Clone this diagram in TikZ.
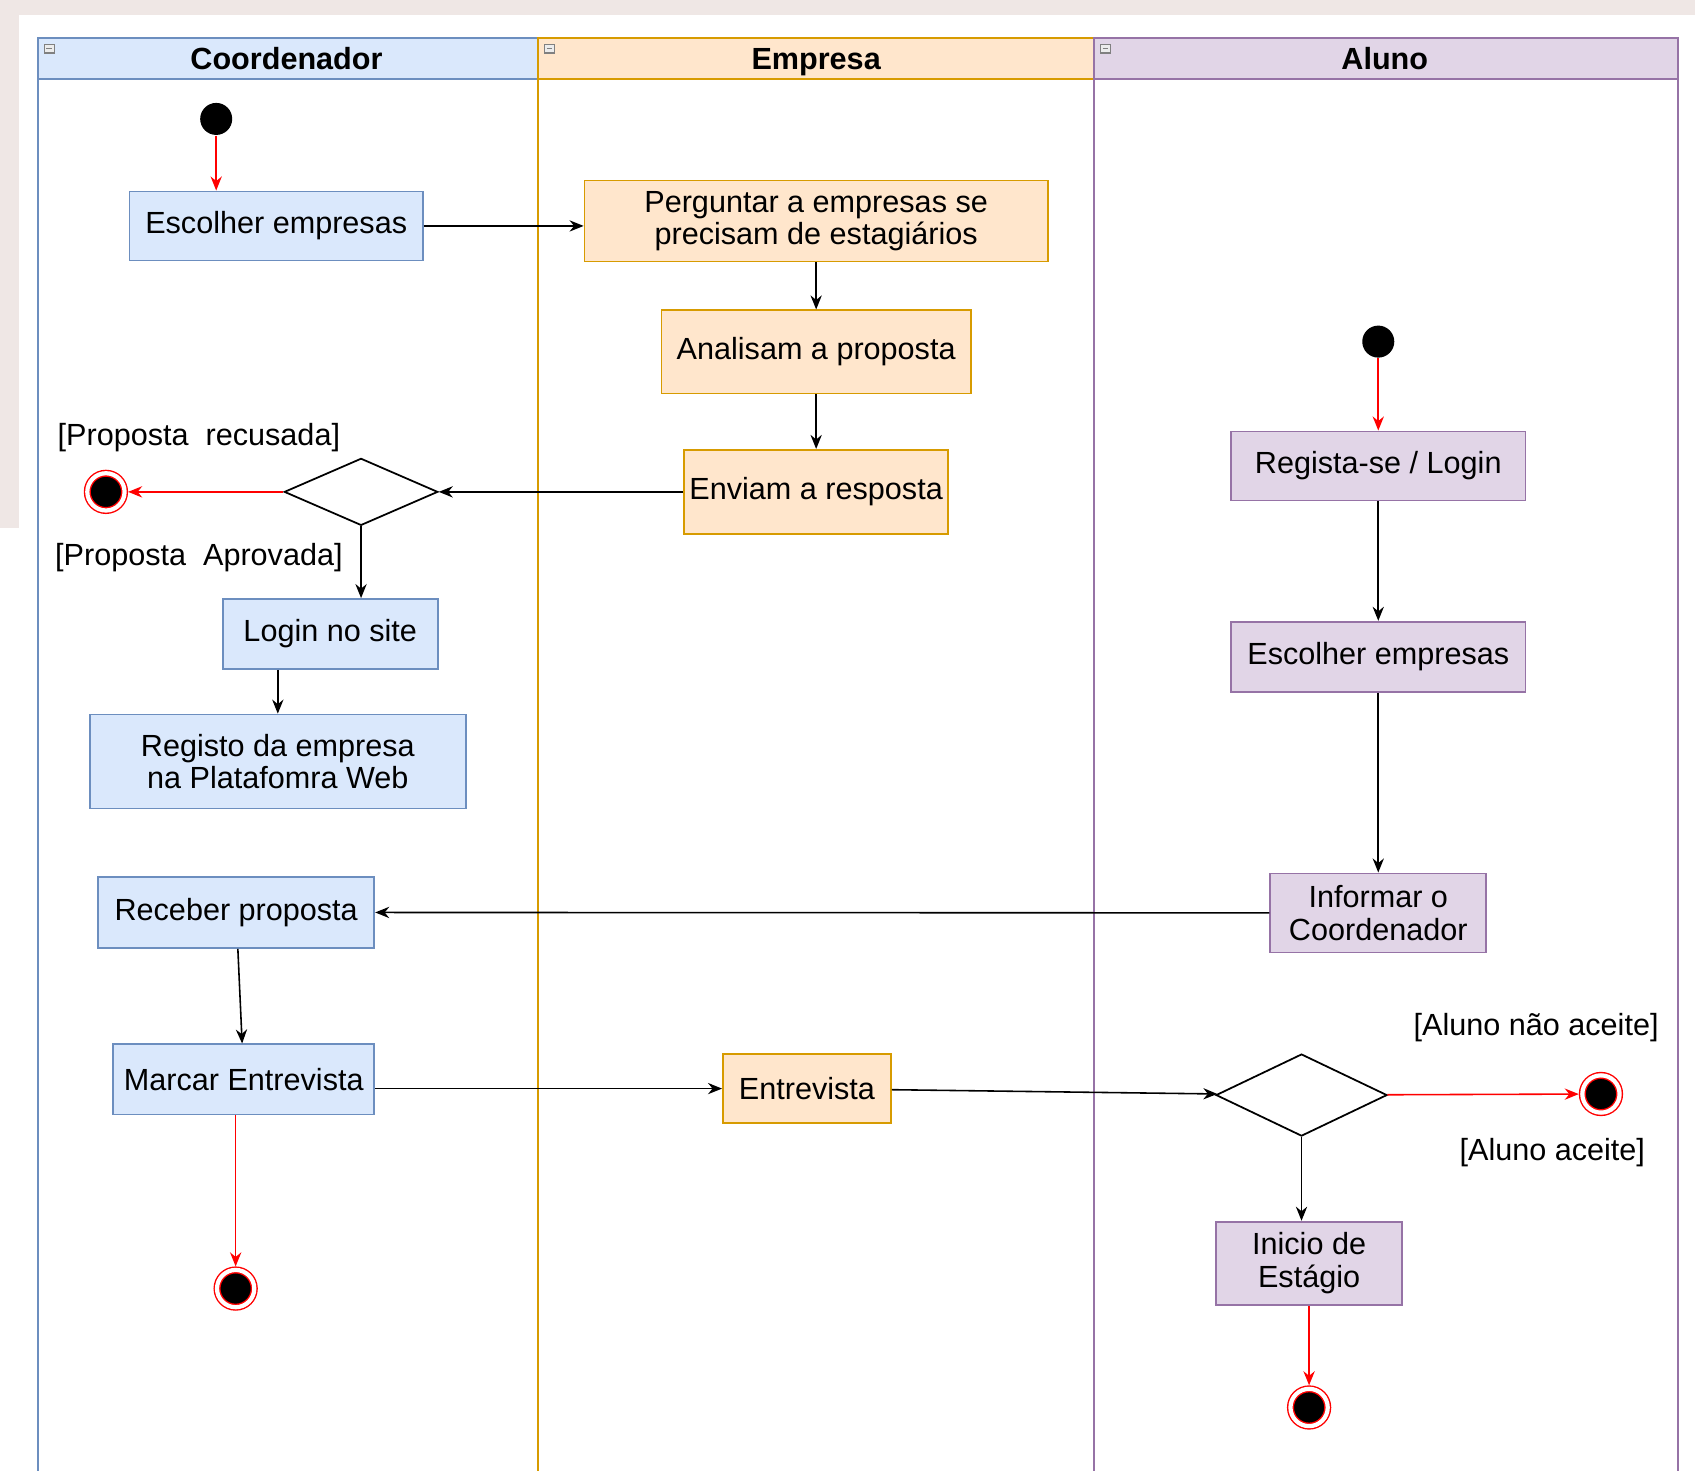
\documentclass[tikz,border=0pt]{standalone}
\usepackage{fontspec}
\setmainfont{Liberation Sans}
\usetikzlibrary{arrows.meta,shapes.geometric}

\definecolor{coordfill}{HTML}{DAE8FC}
\definecolor{coordline}{HTML}{6C8EBF}
\definecolor{empfill}{HTML}{FFE6CC}
\definecolor{empline}{HTML}{D79B00}
\definecolor{alufill}{HTML}{E1D5E7}
\definecolor{aluline}{HTML}{9673A6}
\definecolor{bggrey}{HTML}{EFE7E5}

\begin{document}
\begin{tikzpicture}[x=0.01081cm, y=-0.01081cm,
	font=\fontsize{8.7}{9.3}\selectfont,
	act/.style={draw, rectangle, inner sep=1pt, align=center, line width=0.5pt},
	actc/.style={act, draw=coordline, fill=coordfill},
	acte/.style={act, draw=empline, fill=empfill},
	acta/.style={act, draw=aluline, fill=alufill},
	decis/.style={draw, diamond, inner sep=0pt, line width=0.5pt},
	ponto/.style={circle, fill=black, minimum size=0.32cm, inner sep=0pt},
	fim/.style={circle, fill=black, draw=red, double=white, double distance=1.2pt, line width=0.4pt, minimum size=10.6pt, inner sep=0pt, outer sep=1pt},
	seta/.style={-{Stealth[length=4pt,width=3.2pt]}, line width=0.45pt},
	setav/.style={seta, red},
	titulo/.style={font=\fontsize{8.7}{9.3}\selectfont\bfseries, text height=1.6ex, text depth=0.45ex},
	icone/.style={gray, fill=gray!15, line width=0.3pt}
]

	\useasboundingbox (0,0) rectangle (1568,1360);
	\fill[bggrey] (0,0) rectangle (1568,14);
	\fill[bggrey] (0,0) rectangle (18,488);

	% raias
	\draw[coordline, line width=0.5pt] (35,73) -- (35,1362);
	\draw[coordline, line width=0.5pt] (498,73) -- (498,1362);
	\draw[coordline, fill=coordfill, line width=0.5pt] (35,35) rectangle (498,73);
	\node[titulo] (HC) at (265,54) {Coordenador};
	\draw[icone] (41,41) rectangle (50,49);
	\draw[icone] (43,45) -- (48,45);

	\draw[empline, line width=0.5pt] (498,73) -- (498,1362);
	\draw[empline, line width=0.5pt] (1012,73) -- (1012,1362);
	\draw[empline, fill=empfill, line width=0.5pt] (498,35) rectangle (1012,73);
	\node[titulo] (HE) at (755,54) {Empresa};
	\draw[icone] (504,41) rectangle (513,49);
	\draw[icone] (506,45) -- (511,45);

	\draw[aluline, line width=0.5pt] (1012,73) -- (1012,1362);
	\draw[aluline, line width=0.5pt] (1552,73) -- (1552,1362);
	\draw[aluline, fill=alufill, line width=0.5pt] (1012,35) rectangle (1552,73);
	\node[titulo] (HA) at (1281,54) {Aluno};
	\draw[icone] (1018,41) rectangle (1027,49);
	\draw[icone] (1020,45) -- (1025,45);

	% Coordenador
	\node[ponto] (A) at (200,110) {};
	\node[actc, minimum width=2.93cm, minimum height=0.69cm] (B) at (255.5,209) {Escolher empresas};
	\node[decis, minimum width=1.535cm, minimum height=0.67cm] (F) at (334,455) {};
	\node[fim] (G) at (98,455) {};
	\node (GR) at (184,405) {[Proposta\ \ recusada]};
	\node (GA) at (184,516) {[Proposta\ \ Aprovada]};
	\node[actc, minimum width=2.15cm, minimum height=0.70cm] (H) at (305.5,586.5) {Login no site};
	\node[actc, minimum width=3.76cm, minimum height=0.94cm] (I) at (257,704.5) {Registo da empresa\\na Platafomra Web};
	\node[actc, minimum width=2.76cm, minimum height=0.71cm] (J) at (218.5,844) {Receber proposta};
	\node[actc, minimum width=2.61cm, minimum height=0.70cm] (K) at (225.5,998.5) {Marcar Entrevista};
	\node[fim] (R) at (218,1192) {};

	% Empresa
	\node[acte, minimum width=4.63cm, minimum height=0.81cm] (C) at (755,204.5) {Perguntar a empresas se\\precisam de estagiários};
	\node[acte, minimum width=3.09cm, minimum height=0.83cm] (D) at (755,325.5) {Analisam a proposta};
	\node[acte, minimum width=2.64cm, minimum height=0.84cm] (E) at (755,455) {Enviam a resposta};
	\node[acte, minimum width=1.68cm, minimum height=0.69cm] (L) at (746.5,1007) {Entrevista};

	% Aluno
	\node[ponto] (S) at (1275,316) {};
	\node[acta, minimum width=2.94cm, minimum height=0.69cm] (T) at (1275,431) {Regista-se / Login};
	\node[acta, minimum width=2.94cm, minimum height=0.70cm] (U) at (1275,607.5) {Escolher empresas};
	\node[acta, minimum width=2.16cm, minimum height=0.79cm] (M) at (1275,844.5) {Informar o\\Coordenador};
	\node[decis, minimum width=1.71cm, minimum height=0.82cm] (N) at (1204,1013) {};
	\node[fim] (O) at (1481,1012) {};
	\node (GN) at (1421,951) {[Aluno não aceite]};
	\node (GS) at (1436,1066) {[Aluno aceite]};
	\node[acta, minimum width=1.86cm, minimum height=0.83cm] (P) at (1211,1168.5) {Inicio de\\Estágio};
	\node[fim] (Q) at (1211,1302) {};

	% fluxos
	\draw[setav] (A) -- (A |- B.north);
	\draw[seta] (B.east) -- (B.east -| C.west);
	\draw[seta] (C) -- (D);
	\draw[seta] (D) -- (E);
	\draw[seta] (E) -- (F);
	\draw[setav] (F) -- (G);
	\draw[seta] (F.south) -- (F.south |- H.north);
	\draw[seta] (I.north |- H.south) -- (I.north);
	\draw[seta] (M) -- (J);
	\draw[seta] (J) -- (K);
	\draw[seta] (K.east |- L.west) -- (L.west);
	\draw[seta] (L) -- (N);
	\draw[setav] (N) -- (O);
	\draw[seta] (N.south) -- (N.south |- P.north);
	\draw[setav] (P) -- (Q);
	\draw[setav] (R |- K.south) -- (R);

	\draw[setav] (S) -- (T);
	\draw[seta] (T) -- (U);
	\draw[seta] (U) -- (M);

\end{tikzpicture}
\end{document}
